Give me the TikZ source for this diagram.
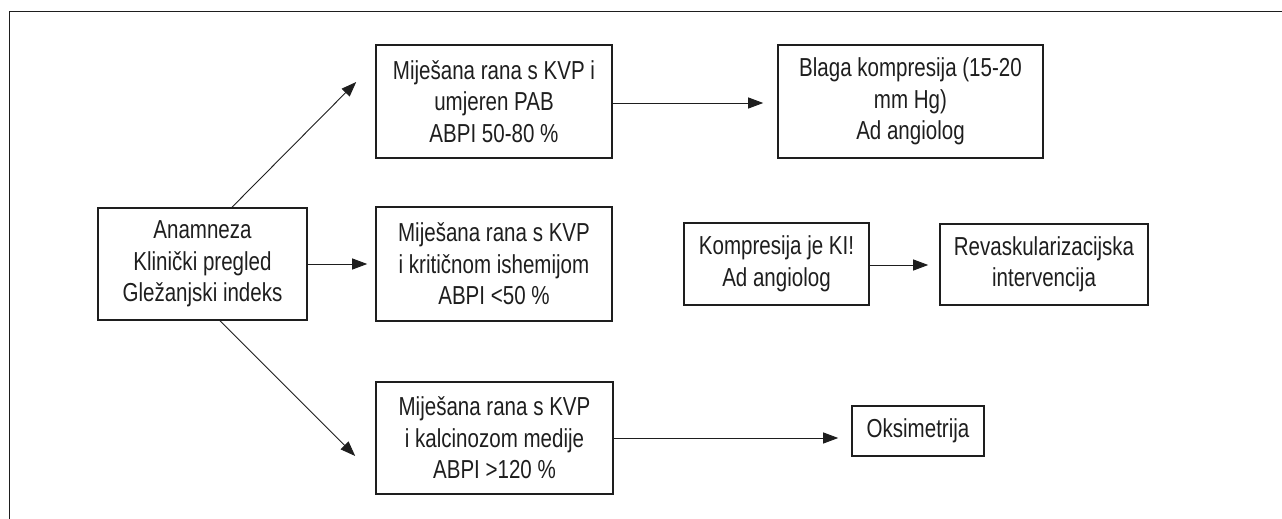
\documentclass[tikz,border=0pt]{standalone}
\usepackage{fontspec}
\setmainfont{Liberation Sans}[FakeStretch=0.79]
\usetikzlibrary{arrows.meta,calc}
\definecolor{ink}{HTML}{1E1E1E}
\tikzset{
  flowbox/.style={draw=ink, line width=1.6pt, rectangle, inner sep=0pt, align=center,
    text=ink, font=\fontsize{26}{31.5}\selectfont},
  flowarrow/.style={draw=ink, line width=0.9pt, -{Triangle[length=15pt,width=11pt]}},
  frameline/.style={draw=ink, line width=1pt}
}
\begin{document}
\begin{tikzpicture}[x=1pt,y=-1pt]
\useasboundingbox (0,0) rectangle (1282,519);
% frame (top and left)
\coordinate (f1) at (1282,12);
\coordinate (f2) at (9.5,12);
\coordinate (f3) at (9.5,519);
\draw[frameline] (f1) -- (f2) -- (f3);
% boxes
\node[flowbox, minimum width=209pt, minimum height=112pt] (A) at (202.5,264)
  {Anamneza\\Klinički pregled\\Gležanjski indeks};
\node[flowbox, minimum width=236pt, minimum height=113pt] (B) at (494,101.5)
  {Miješana rana s KVP i\\umjeren PAB\\ABPI 50-80 \%};
\node[flowbox, minimum width=265pt, minimum height=113pt] (C) at (910.5,101.5)
  {Blaga kompresija (15-20\\mm Hg)\\Ad angiolog};
\node[flowbox, minimum width=236pt, minimum height=114pt] (D) at (494,264)
  {Miješana rana s KVP\\i kritičnom ishemijom\\ABPI <50 \%};
\node[flowbox, minimum width=185pt, minimum height=82pt] (E) at (776.5,264)
  {Kompresija je KI!\\Ad angiolog};
\node[flowbox, minimum width=208pt, minimum height=81pt] (F) at (1044,264.5)
  {Revaskularizacijska\\intervencija};
\node[flowbox, minimum width=237pt, minimum height=112pt] (G) at (494.5,438)
  {Miješana rana s KVP\\i kalcinozom medije\\ABPI >120 \%};
\node[flowbox, minimum width=132pt, minimum height=50pt] (H) at (918,431)
  {Oksimetrija};
% arrow ends
\coordinate (AtoB) at ($(B.west)+(-19,-19.5)$);
\coordinate (AtoG) at ($(G.west)+(-20,18)$);
% arrows
\draw[flowarrow] ($(A.north)+(29.5,0)$) -- (AtoB);
\draw[flowarrow] ($(A.south)+(17.5,0)$) -- (AtoG);
\draw[flowarrow, shorten >=8pt] (A.east) -- (D.west);
\draw[flowarrow, shorten >=14pt] ($(B.east)+(0,1.5)$) -- ($(B.east -| C.west)+(0,1.5)$);
\draw[flowarrow, shorten >=11pt] ($(E.east)+(0,1)$) -- ($(E.east -| F.west)+(0,1)$);
\draw[flowarrow, shorten >=13pt] (G.east) -- (G.east -| H.west);
\end{tikzpicture}
\end{document}
